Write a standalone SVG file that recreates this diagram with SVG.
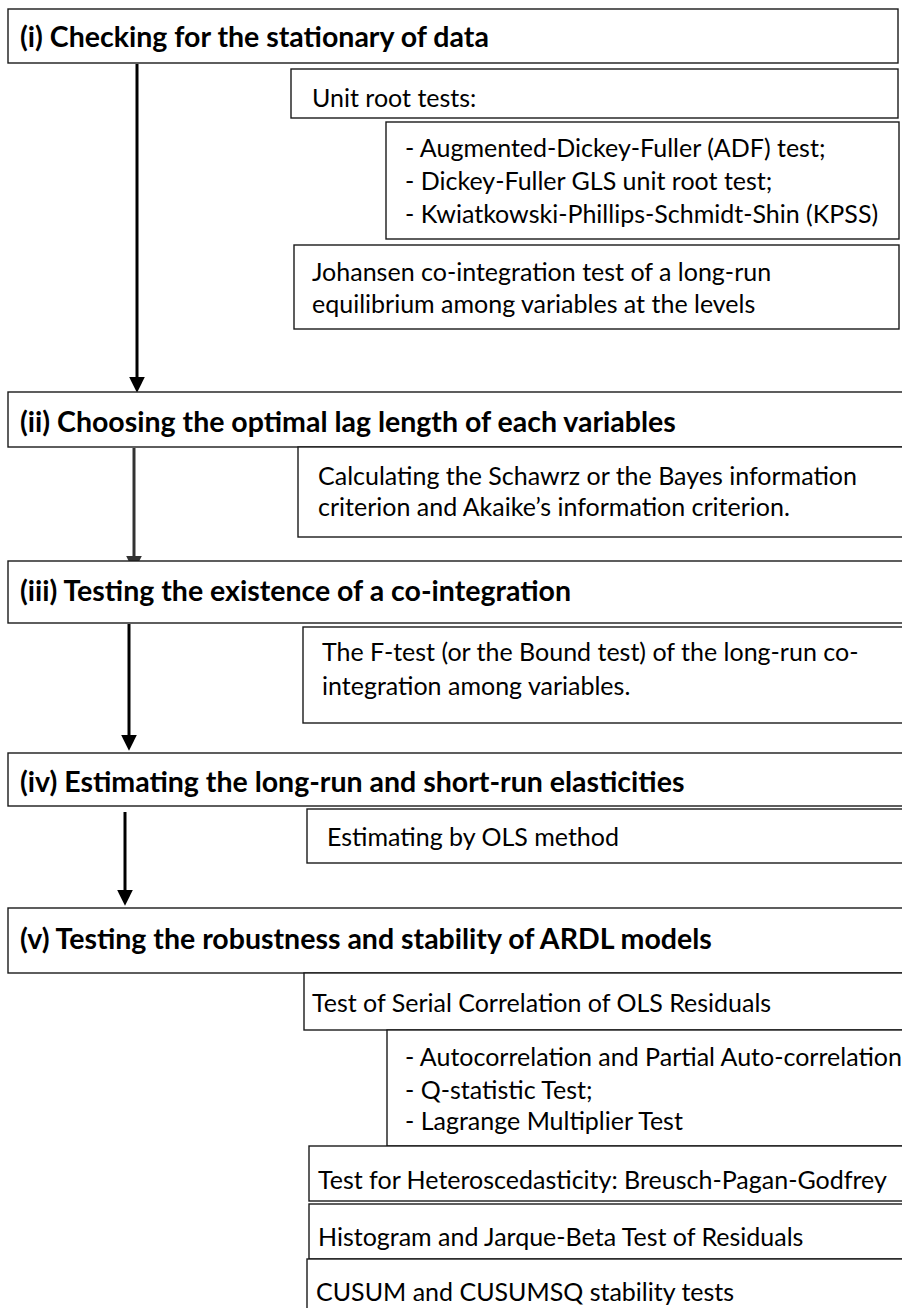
<svg xmlns="http://www.w3.org/2000/svg" width="902" height="1308" viewBox="0 0 902 1308">
<style>
.box{fill:#fff;stroke:#1a1a1a;stroke-width:1.4}
.t{font-family:Lato,"Liberation Sans",sans-serif;font-size:25px;fill:#000}
.h{font-family:Lato,"Liberation Sans",sans-serif;font-size:28.5px;font-weight:bold;fill:#000}
.c{stroke:#000;stroke-width:3;fill:none}
</style>
<defs>
<marker id="ah" markerUnits="userSpaceOnUse" markerWidth="16" markerHeight="16" viewBox="0 0 15 15" refX="5" refY="7.5" orient="auto">
<path d="M0,0 L15,7.5 L0,15 z" fill="#000"/>
</marker>
<marker id="ah2" markerUnits="userSpaceOnUse" markerWidth="16" markerHeight="16" viewBox="0 0 15 15" refX="5" refY="7.5" orient="auto">
<path d="M0,0 L15,7.5 L0,15 z" fill="#333"/>
</marker>
</defs>
<rect width="902" height="1308" fill="#fff"/>
<g id="connectors">
<line class="c" x1="137" y1="64" x2="137" y2="382" marker-end="url(#ah)"/>
<line class="c" x1="134" y1="448" x2="134" y2="561" marker-end="url(#ah2)" style="stroke:#333"/>
<line class="c" x1="129" y1="624" x2="129" y2="740" marker-end="url(#ah)"/>
<line class="c" x1="125" y1="812" x2="125" y2="895" marker-end="url(#ah)"/>
</g>
<g id="n1"><rect class="box" x="8" y="9" width="890" height="54"/><text class="h" x="20" y="47">(i) Checking for the stationary of data</text></g>
<g id="n1a"><rect class="box" x="291" y="69" width="607" height="49"/><text class="t" x="312" y="107">Unit root tests:</text></g>
<g id="n1b"><rect class="box" x="386" y="122" width="513" height="117"/>
<text class="t" x="405" y="157">- Augmented-Dickey-Fuller (ADF) test;</text>
<text class="t" x="405" y="190">- Dickey-Fuller GLS unit root test;</text>
<text class="t" x="405" y="223">- Kwiatkowski-Phillips-Schmidt-Shin (KPSS)</text></g>
<g id="n1c"><rect class="box" x="294" y="245" width="605" height="84"/>
<text class="t" x="312" y="281">Johansen co-integration test of a long-run</text>
<text class="t" x="312" y="313">equilibrium among variables at the levels</text></g>
<g id="n2"><rect class="box" x="8" y="392" width="897" height="55"/><text class="h" x="20" y="432">(ii) Choosing the optimal lag length of each variables</text></g>
<g id="n2a"><rect class="box" x="298" y="447" width="607" height="90"/>
<text class="t" x="318" y="485">Calculating the Schawrz or the Bayes information</text>
<text class="t" x="318" y="516">criterion and Akaike’s information criterion.</text></g>
<g id="n3"><rect class="box" x="8" y="561" width="897" height="62"/><text class="h" x="20" y="601">(iii) Testing the existence of a co-integration</text></g>
<g id="n3a"><rect class="box" x="303" y="627" width="602" height="96"/>
<text class="t" x="322" y="661">The F-test (or the Bound test) of the long-run co-</text>
<text class="t" x="322" y="695">integration among variables.</text></g>
<g id="n4"><rect class="box" x="8" y="753" width="897" height="53"/><text class="h" x="20" y="792">(iv) Estimating the long-run and short-run elasticities</text></g>
<g id="n4a"><rect class="box" x="307" y="809" width="598" height="54"/><text class="t" x="327" y="846">Estimating by OLS method</text></g>
<g id="n5"><rect class="box" x="8" y="908" width="897" height="65"/><text class="h" x="20" y="949">(v) Testing the robustness and stability of ARDL models</text></g>
<g id="n5a"><rect class="box" x="304" y="973" width="601" height="57"/><text class="t" x="312" y="1012">Test of Serial Correlation of OLS Residuals</text></g>
<g id="n5b"><rect class="box" x="387" y="1030" width="518" height="116"/>
<text class="t" x="405" y="1066">- Autocorrelation and Partial Auto-correlation</text>
<text class="t" x="405" y="1099">- Q-statistic Test;</text>
<text class="t" x="405" y="1130">- Lagrange Multiplier Test</text></g>
<g id="n5c"><rect class="box" x="309" y="1146" width="596" height="55"/><text class="t" x="318" y="1189">Test for Heteroscedasticity: Breusch-Pagan-Godfrey</text></g>
<g id="n5d"><rect class="box" x="309" y="1204" width="596" height="55"/><text class="t" x="318" y="1246">Histogram and Jarque-Beta Test of Residuals</text></g>
<g id="n5e"><rect class="box" x="307" y="1259" width="598" height="60"/><text class="t" x="316" y="1301">CUSUM and CUSUMSQ stability tests</text></g>
</svg>
